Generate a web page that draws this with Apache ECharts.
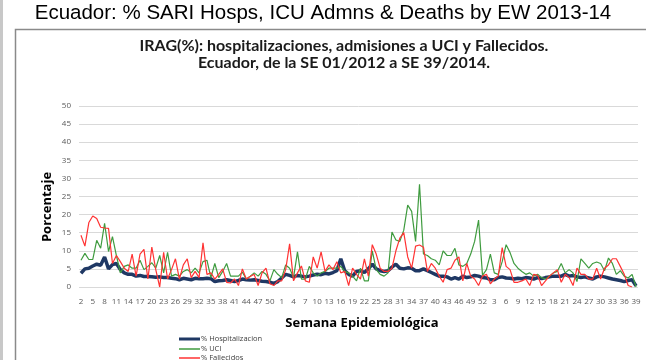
<!DOCTYPE html>
<html>
<head>
<meta charset="utf-8">
<script src="https://cdn.jsdelivr.net/npm/echarts@6/dist/echarts.min.js"></script>
<style>
  html, body { margin: 0; padding: 0; background: #fff; }
  #chart { width: 646px; height: 360px; }
</style>
</head>
<body>
<div id="chart"></div>
<script>
// Epidemiological weeks: 2012 wk 2-52, 2013 wk 1-52, 2014 wk 1-39
const weeks2012 = [];
for (let w = 2; w <= 52; w++) weeks2012.push(String(w));
const weeks2013 = [];
for (let w = 1; w <= 52; w++) weeks2013.push(String(w));
const weeks2014 = [];
for (let w = 1; w <= 39; w++) weeks2014.push(String(w));
const categories = weeks2012.concat(weeks2013, weeks2014);

// % Hospitalizacion
const hosp2012 = [3.8,5.0,5.2,5.8,6.3,6.0,8.3,5.0,6.2,6.5, 4.8,3.9,3.5,3.5,3.0,3.2,2.9,2.9,2.8,2.7,
  2.8,2.6,2.6,2.4,2.3,2.0,2.4,2.2,2.0,2.4, 2.3,2.3,2.4,2.3,1.5,1.7,1.8,2.0,1.8,1.5,
  1.8,2.2,2.0,1.9,2.0,1.8,1.6,1.5,1.3,1.0, 1.5];
const hosp2013 = [2.5,3.5,3.2,2.8,3.2,3.0,2.8,3.0,3.3,3.5, 3.4,3.8,3.6,4.0,4.5,7.8,4.5,3.5,3.0,4.3,
  4.5,4.0,5.0,6.3,5.0,4.5,4.3,4.5,5.5,6.3, 5.2,5.0,5.3,5.2,4.5,4.5,5.0,4.5,4.0,3.5,
  3.0,3.0,2.8,2.2,2.6,2.2,3.0,2.6,2.8,3.2, 3.0,2.6];
const hosp2014 = [2.5,2.0,2.0,2.6,2.8,2.5,2.4,2.2,2.4,2.3, 2.6,2.5,2.2,2.6,2.3,2.6,2.8,3.0,3.0,3.0,
  3.5,3.0,3.2,2.8,2.6,2.8,2.5,2.2,2.8,3.0, 2.8,2.5,2.2,2.0,1.8,1.5,1.8,2.0,0.3];

// % UCI
const uci2012 = [7.4,9.3,7.6,7.6,12.9,10.7,17.6,9.8,13.9,8.7, 3.9,5.7,6.1,5.2,5.2,7.4,4.8,5.7,6.7,5.2,
  8.7,3.9,9.6,3.0,3.5,3.0,4.3,4.8,3.9,5.2, 3.9,7.0,7.4,2.6,6.5,2.6,4.3,6.5,3.0,3.0,
  3.0,4.1,2.2,3.0,3.9,3.0,4.3,3.5,1.7,4.8, 3.5];
const uci2013 = [2.6,6.1,5.2,2.6,9.7,2.2,2.2,5.7,3.9,3.0, 3.9,4.3,5.2,5.2,5.2,5.7,4.3,3.9,3.0,1.7,
  5.2,1.7,1.7,10.0,4.8,3.5,3.0,3.9,15.2,13.0, 12.6,15.7,22.6,20.9,12.6,28.4,9.1,8.7,7.8,7.4,
  6.1,10.0,8.7,8.7,10.7,6.1,5.7,6.5,9.1,12.6, 18.5,3.2];
const uci2014 = [4.8,9.1,3.9,3.5,7.0,11.7,9.5,6.5,5.2,4.3, 3.5,3.9,3.0,3.5,2.6,2.2,3.0,3.9,4.3,6.5,
  3.9,4.8,3.9,1.5,7.8,6.5,5.2,6.5,6.9,6.5, 4.5,8.0,6.5,3.5,4.5,3.0,2.5,3.5,0.0];

// % Fallecidos
const fall2012 = [14.3,11.3,17.8,19.6,18.9,16.5,16.3,16.2,6.5,8.7, 7.0,5.2,4.3,9.1,3.0,9.1,10.4,2.2,11.0,4.8,
  0.0,9.6,2.2,4.8,7.8,2.2,6.1,7.8,2.6,4.3, 2.6,12.2,3.5,3.9,2.2,3.5,5.0,1.3,1.1,2.2,
  0.4,5.0,2.2,2.9,3.5,0.4,3.9,5.2,0.9,0.4, 1.7];
const fall2013 = [1.7,4.8,11.9,1.7,3.9,5.8,1.7,1.3,8.3,5.2, 9.7,4.3,6.1,4.8,7.0,3.9,4.3,0.4,5.2,3.5,
  2.2,7.8,3.0,11.7,9.1,5.2,4.3,4.3,5.2,10.0, 13.5,15.0,8.3,5.2,11.3,11.6,11.0,4.3,6.5,5.2,
  3.0,1.3,4.8,5.2,7.4,8.3,1.7,6.5,3.0,2.2, 0.4,3.0];
const fall2014 = [3.5,0.9,2.2,3.0,10.9,5.7,4.8,1.3,1.3,1.7, 2.2,0.4,3.5,3.2,0.4,1.7,3.0,3.9,4.8,1.3,
  3.5,2.6,0.4,5.2,3.5,3.5,2.2,2.2,5.2,2.2, 5.2,6.1,7.8,7.8,5.7,3.5,0.4,0.0,null];

const hosp = hosp2012.concat(hosp2013, hosp2014);
const uci = uci2012.concat(uci2013, uci2014);
const fall = fall2012.concat(fall2013, fall2014);

const seriesNames = ['% Hospitalizacion', '% UCI', '% Fallecidos'];
const colors = ['#1f3864', '#3f9b3f', '#ff3333'];

const chart = echarts.init(document.getElementById('chart'), null, { renderer: 'canvas' });

// one legend block per series, stacked as a short column under the axis title
function legendRow(name, top, thickness) {
  return {
    orient: 'vertical',
    left: 174,
    top: top,
    icon: 'rect',
    itemWidth: 21,
    itemHeight: thickness,
    textStyle: { fontFamily: 'Open Sans', fontSize: 7.5, color: '#404040', padding: [0, 0, 0, -4] },
    data: [name]
  };
}

chart.setOption({
  animation: false,
  backgroundColor: '#ffffff',
  grid: { left: 79, right: 8, top: 106, bottom: 73 },
  xAxis: {
    type: 'category',
    data: categories,
    boundaryGap: true,
    axisLine: { show: false },
    axisTick: { show: false },
    axisLabel: {
      interval: 2,
      margin: 11,
      color: '#595959',
      fontFamily: 'Open Sans',
      fontSize: 8
    },
    splitLine: { show: false }
  },
  yAxis: {
    type: 'value',
    min: 0,
    max: 50,
    interval: 5,
    axisLine: { show: false },
    axisTick: { show: false },
    axisLabel: {
      margin: 8,
      color: '#595959',
      fontFamily: 'Open Sans',
      fontSize: 8
    },
    splitLine: { lineStyle: { color: '#d9d9d9', width: 1 } }
  },
  legend: [
    legendRow(seriesNames[0], 330, 3),
    legendRow(seriesNames[1], 340, 1.5),
    legendRow(seriesNames[2], 349, 1.5)
  ],
  series: [
    {
      name: seriesNames[0],
      type: 'line',
      data: hosp,
      symbol: 'none',
      lineStyle: { color: colors[0], width: 3.5 },
      itemStyle: { color: colors[0] }
    },
    {
      name: seriesNames[1],
      type: 'line',
      data: uci,
      symbol: 'none',
      lineStyle: { color: colors[1], width: 1.2 },
      itemStyle: { color: colors[1] }
    },
    {
      name: seriesNames[2],
      type: 'line',
      data: fall,
      symbol: 'none',
      connectNulls: false,
      lineStyle: { color: colors[2], width: 1.2 },
      itemStyle: { color: colors[2] }
    }
  ],
  graphic: [
    { type: 'rect', left: 0, top: 0, shape: { width: 3, height: 360 }, style: { fill: '#c8c8c8' }, silent: true },
    { type: 'polyline', shape: { points: [[15.5, 360], [15.5, 29.5], [646, 29.5]] },
      style: { stroke: '#8a8a8a', lineWidth: 1.5, fill: null }, silent: true },
    { type: 'text', x: 323, y: 13,
      style: { text: 'Ecuador: % SARI Hosps, ICU Admns & Deaths by EW 2013-14',
               font: '20.5px "Liberation Sans", Arial, sans-serif', fill: '#000',
               align: 'center', verticalAlign: 'middle' } },
    { type: 'text', x: 344, y: 46,
      style: { text: 'IRAG(%): hospitalizaciones, admisiones a UCI y Fallecidos.',
               font: 'bold 16px Lato, sans-serif', fill: '#1a1a1a', align: 'center', verticalAlign: 'middle' } },
    { type: 'text', x: 344, y: 63,
      style: { text: 'Ecuador, de la SE 01/2012 a SE 39/2014.',
               font: 'bold 16px Lato, sans-serif', fill: '#1a1a1a', align: 'center', verticalAlign: 'middle' } },
    { type: 'text', x: 47, y: 207, rotation: Math.PI / 2,
      style: { text: 'Porcentaje', font: 'bold 13px "Open Sans", sans-serif', fill: '#000',
               align: 'center', verticalAlign: 'middle' } },
    { type: 'text', x: 362, y: 323,
      style: { text: 'Semana Epidemiológica', font: 'bold 13px "Open Sans", sans-serif', fill: '#000',
               align: 'center', verticalAlign: 'middle' } }
  ]
});
</script>
</body>
</html>
